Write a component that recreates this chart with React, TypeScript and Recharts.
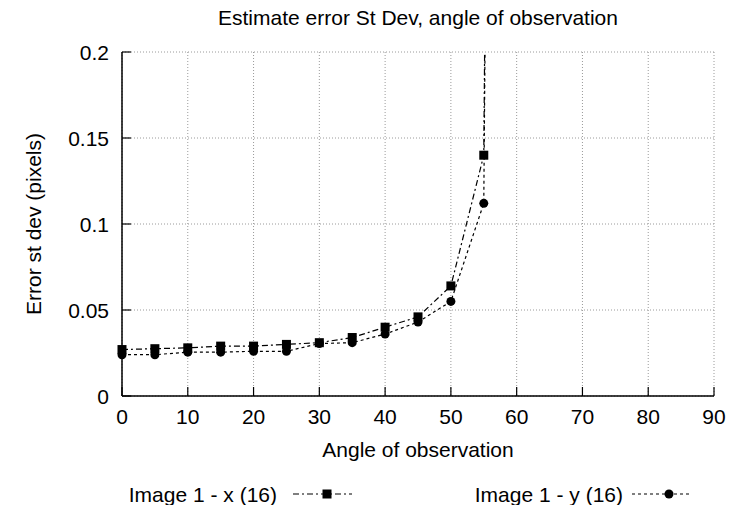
import { LineChart, Line, XAxis, YAxis, CartesianGrid } from "recharts";

const angles = [0, 5, 10, 15, 20, 25, 30, 35, 40, 45, 50, 55, 60];
// st dev of the estimate error, x and y, in pixels (last point is off the scale)
const errX = [0.027, 0.0275, 0.028, 0.029, 0.029, 0.03, 0.031, 0.034, 0.04, 0.046, 0.064, 0.14, 2.5];
const errY = [0.024, 0.024, 0.0255, 0.0255, 0.026, 0.026, 0.0305, 0.031, 0.036, 0.043, 0.055, 0.112, 2.5];

const xTicks = [0, 10, 20, 30, 40, 50, 60, 70, 80, 90];
const yTicks = [0, 0.05, 0.1, 0.15, 0.2];
const Y_MAX = 0.2;

const seriesNames = ["Image 1 - x (16)", "Image 1 - y (16)"];

const data = angles.map((a, i) => ({ angle: a, x: errX[i], y: errY[i] }));

const FONT = "'Liberation Sans', Arial, Helvetica, sans-serif";
const DASH_X = "6 3 2 3";
const DASH_Y = "3 3";
const TICK_LEN = 9;
const GAP = 13;

const SquareDot = (props: any) => {
  const { cx, cy, index } = props;
  if (cx == null || cy == null) return <g key={`s-${index}`} />;
  return <rect key={`s-${index}`} x={cx - 4.5} y={cy - 4.5} width={9} height={9} fill="#000" />;
};

const CircleDot = (props: any) => {
  const { cx, cy, index } = props;
  if (cx == null || cy == null) return <g key={`c-${index}`} />;
  return <circle key={`c-${index}`} cx={cx} cy={cy} r={4.5} fill="#000" />;
};

const onScale = (key: "x" | "y") => (d: any) => (d[key] <= Y_MAX ? d[key] : null);

// gnuplot style ticks: short marks pointing into the plot, label outside
const BottomTick = ({ x, y, payload }: any) => (
  <g>
    <line x1={x} x2={x} y1={y - GAP} y2={y - GAP - TICK_LEN} stroke="#000" strokeWidth={1.2} />
    <text x={x} y={y + 15} textAnchor="middle" fontFamily={FONT} fontSize={21} fill="#000">
      {payload.value}
    </text>
  </g>
);

const LeftTick = ({ x, y, payload }: any) => (
  <g>
    <line x1={x + GAP} x2={x + GAP + TICK_LEN} y1={y} y2={y} stroke="#000" strokeWidth={1.2} />
    <text x={x} y={y + 7.5} textAnchor="end" fontFamily={FONT} fontSize={21} fill="#000">
      {String(payload.value)}
    </text>
  </g>
);

const TopTick = ({ x, y }: any) => (
  <line x1={x} x2={x} y1={y} y2={y + TICK_LEN} stroke="#000" strokeWidth={1.2} />
);

const RightTick = ({ x, y }: any) => (
  <line x1={x} x2={x - TICK_LEN} y1={y} y2={y} stroke="#000" strokeWidth={1.2} />
);

export default function App() {
  const axisLine = { stroke: "#000", strokeWidth: 1.5 };
  return (
    <div style={{ position: "absolute", left: 0, top: 0, width: 736, height: 505, background: "#fff" }}>
      <LineChart
        width={736}
        height={505}
        data={data}
        margin={{ top: 52, right: 22, left: 0, bottom: 59 }}
      >
        <CartesianGrid yAxisId="left" stroke="#9a9a9a" strokeDasharray="1 2" />
        <XAxis
          dataKey="angle"
          type="number"
          domain={[0, 90]}
          ticks={xTicks}
          height={50}
          tick={BottomTick}
          tickSize={0}
          tickMargin={GAP}
          tickLine={false}
          axisLine={axisLine}
          interval={0}
        />
        <XAxis
          xAxisId="top"
          orientation="top"
          dataKey="angle"
          type="number"
          domain={[0, 90]}
          ticks={xTicks}
          height={0}
          tick={TopTick}
          tickSize={0}
          tickMargin={0}
          tickLine={false}
          axisLine={axisLine}
          interval={0}
        />
        <YAxis
          yAxisId="left"
          type="number"
          domain={[0, Y_MAX]}
          allowDataOverflow
          ticks={yTicks}
          width={122}
          tick={LeftTick}
          tickSize={0}
          tickMargin={GAP}
          tickLine={false}
          axisLine={axisLine}
          interval={0}
        />
        <YAxis
          yAxisId="right"
          orientation="right"
          type="number"
          domain={[0, Y_MAX]}
          ticks={yTicks}
          width={0}
          tick={RightTick}
          tickSize={0}
          tickMargin={0}
          tickLine={false}
          axisLine={axisLine}
          interval={0}
        />
        <Line
          yAxisId="left"
          dataKey="x"
          name={seriesNames[0]}
          stroke="#000"
          strokeWidth={1.2}
          strokeDasharray={DASH_X}
          dot={false}
          isAnimationActive={false}
        />
        <Line
          yAxisId="left"
          dataKey="y"
          name={seriesNames[1]}
          stroke="#000"
          strokeWidth={1.2}
          strokeDasharray={DASH_Y}
          dot={false}
          isAnimationActive={false}
        />
        <Line
          xAxisId="top"
          yAxisId="right"
          dataKey={onScale("x")}
          stroke="none"
          dot={SquareDot}
          activeDot={false}
          legendType="none"
          isAnimationActive={false}
        />
        <Line
          xAxisId="top"
          yAxisId="right"
          dataKey={onScale("y")}
          stroke="none"
          dot={CircleDot}
          activeDot={false}
          legendType="none"
          isAnimationActive={false}
        />
      </LineChart>

      <svg
        width={736}
        height={505}
        style={{ position: "absolute", left: 0, top: 0, pointerEvents: "none" }}
        fontFamily={FONT}
        fontSize={21}
      >
        <text x={418} y={25} textAnchor="middle" fill="#000">
          Estimate error St Dev, angle of observation
        </text>
        <text x={418} y={457} textAnchor="middle" fill="#000">
          Angle of observation
        </text>
        <text
          x={0}
          y={0}
          textAnchor="middle"
          fill="#000"
          transform="translate(41 224) rotate(-90)"
        >
          Error st dev (pixels)
        </text>

        <text x={277} y={502} textAnchor="end" fill="#000">
          {seriesNames[0]}
        </text>
        <line x1={293} x2={352} y1={494} y2={494} stroke="#000" strokeWidth={1.2} strokeDasharray={DASH_X} />
        <rect x={322.5} y={489.5} width={9} height={9} fill="#000" />

        <text x={623} y={502} textAnchor="end" fill="#000">
          {seriesNames[1]}
        </text>
        <line x1={632} x2={691} y1={494} y2={494} stroke="#000" strokeWidth={1.2} strokeDasharray={DASH_Y} />
        <circle cx={669} cy={494} r={4.5} fill="#000" />
      </svg>
    </div>
  );
}
